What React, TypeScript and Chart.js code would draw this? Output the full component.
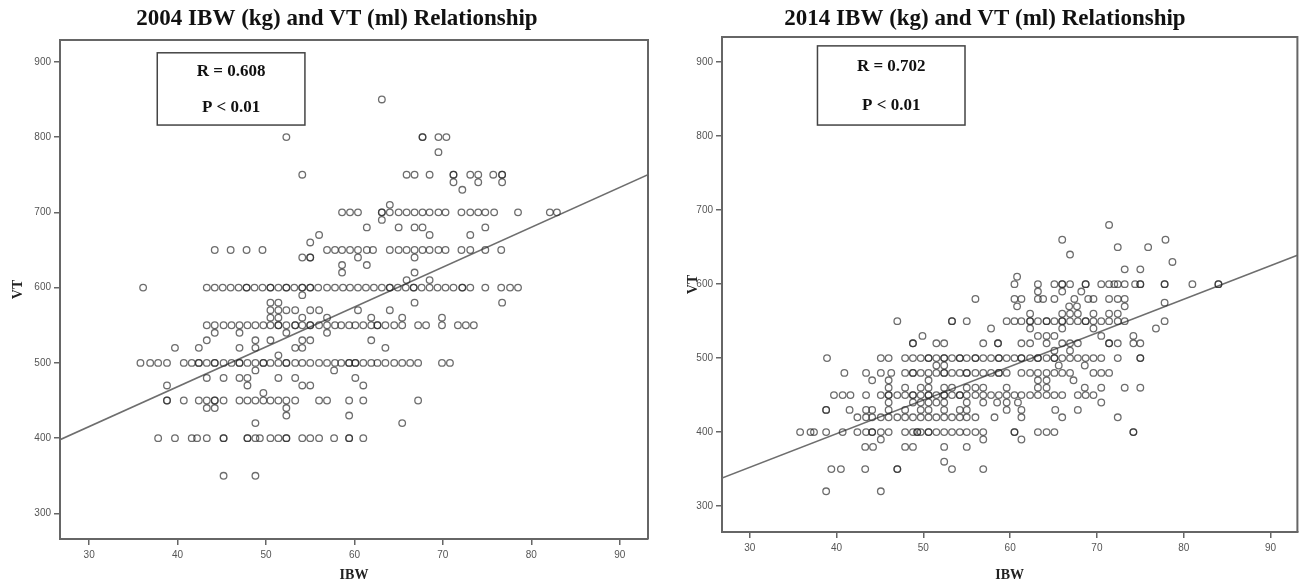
import React, { useEffect, useRef } from "react";
import { Chart, registerables } from "chart.js";

Chart.register(...registerables);

// ---------- tick labels ----------
const X_TICKS = [30, 40, 50, 60, 70, 80, 90];
const Y_TICKS = [300, 400, 500, 600, 700, 800, 900];

// ---------- 2004 data: [VT level, IBW values at that VT] ----------
const ROWS_2004: [number, number[]][] = [
  [850, [63.1]],
  [800, [52.3, 67.7, 67.7, 69.5, 70.4]],
  [780, [69.5]],
  [750, [54.1, 65.9, 66.8, 68.5, 71.2, 71.2, 73.1, 74.0, 75.7, 76.7, 76.7]],
  [740, [71.2, 74.0, 76.7]],
  [730, [72.2]],
  [710, [64.0]],
  [700, [58.6, 59.5, 60.4, 63.1, 63.1, 64.0, 65.0, 65.9, 66.8, 67.7, 68.5, 69.5, 70.3, 72.1, 73.1, 74.0, 74.8, 75.8, 78.5, 82.1, 82.9]],
  [690, [63.1]],
  [680, [61.4, 65.0, 66.8, 67.7, 74.8]],
  [670, [56.0, 68.5, 73.1]],
  [660, [55.0]],
  [650, [44.2, 46.0, 47.8, 49.6, 56.9, 57.8, 58.6, 59.5, 60.4, 61.4, 62.1, 64.0, 65.0, 65.9, 66.8, 67.7, 68.5, 69.5, 70.3, 72.1, 73.1, 74.8, 76.6]],
  [640, [54.1, 55.0, 55.0, 60.4, 66.8]],
  [630, [58.6, 61.4]],
  [620, [58.6, 66.8]],
  [610, [65.9, 68.5]],
  [600, [36.1, 43.3, 44.2, 45.1, 46.0, 46.9, 47.8, 47.8, 48.7, 49.6, 50.5, 50.5, 51.4, 52.3, 52.3, 53.2, 54.1, 54.1, 55.0, 55.0, 55.9, 56.9, 57.8, 58.7, 59.5, 60.4, 61.3, 62.2, 63.1, 64.0, 64.0, 64.9, 65.8, 66.7, 66.7, 67.6, 68.5, 69.4, 70.3, 71.2, 72.2, 72.2, 73.1, 74.8, 76.6, 77.6, 78.5]],
  [590, [54.1]],
  [580, [50.5, 51.4, 66.8, 76.7]],
  [570, [50.5, 51.4, 52.3, 53.3, 55.0, 56.0, 60.4, 64.0]],
  [560, [50.5, 51.4, 54.1, 56.9, 61.9, 65.4, 69.9]],
  [550, [43.3, 44.2, 45.2, 46.1, 47.0, 47.9, 48.8, 49.7, 50.5, 51.4, 51.4, 52.3, 53.3, 53.3, 54.1, 55.0, 55.0, 56.0, 56.9, 57.8, 58.5, 59.4, 60.1, 61.0, 61.9, 62.6, 62.6, 63.5, 64.5, 65.4, 67.2, 68.1, 69.9, 71.7, 72.6, 73.5]],
  [540, [44.2, 47.0, 52.3, 56.9]],
  [530, [43.3, 48.8, 50.5, 54.1, 55.0, 61.9]],
  [520, [39.7, 42.4, 47.0, 48.8, 53.3, 54.1, 63.5]],
  [510, [51.4]],
  [500, [35.8, 36.9, 37.8, 38.8, 40.7, 41.6, 42.4, 42.4, 43.3, 44.2, 44.2, 45.2, 46.1, 47.0, 47.0, 47.9, 48.8, 49.7, 49.7, 50.5, 51.4, 52.3, 52.3, 53.3, 54.1, 55.0, 56.0, 56.9, 57.8, 58.5, 59.4, 59.4, 60.1, 60.1, 61.0, 61.9, 62.6, 63.5, 64.5, 65.4, 66.3, 67.2, 69.9, 70.8]],
  [490, [48.8, 57.7]],
  [480, [43.3, 45.2, 47.0, 47.9, 51.4, 53.3, 60.1]],
  [470, [38.8, 47.9, 54.1, 55.0, 61.0]],
  [460, [49.7]],
  [450, [38.8, 38.8, 40.7, 42.4, 43.3, 44.2, 44.2, 45.2, 47.0, 47.9, 48.8, 49.7, 50.5, 51.4, 52.3, 53.3, 56.0, 56.9, 59.4, 61.0, 67.2]],
  [440, [43.3, 44.2, 52.3]],
  [430, [52.3, 59.4]],
  [420, [48.8, 65.4]],
  [400, [37.8, 39.7, 41.6, 42.2, 43.3, 45.2, 45.2, 47.9, 47.9, 48.8, 49.3, 50.5, 51.4, 52.3, 52.3, 54.1, 55.0, 56.0, 57.7, 59.4, 59.4, 61.0]],
  [350, [45.2, 48.8]],
];

// ---------- 2014 data: [VT level, IBW values at that VT] ----------
const ROWS_2014: [number, number[]][] = [
  [680, [71.4]],
  [660, [66.0, 77.9]],
  [650, [72.4, 75.9]],
  [640, [66.9]],
  [630, [78.7]],
  [620, [73.2, 75.0]],
  [610, [60.8]],
  [600, [60.5, 63.2, 65.1, 66.0, 66.0, 66.9, 68.7, 68.7, 70.5, 71.4, 72.0, 72.4, 73.2, 74.4, 75.0, 75.0, 77.8, 77.8, 81.0, 84.0, 84.0]],
  [590, [63.2, 66.0, 68.2]],
  [580, [56.0, 60.5, 61.3, 63.2, 63.8, 65.1, 67.4, 69.0, 69.6, 71.4, 72.4, 73.2]],
  [575, [77.8]],
  [570, [60.8, 66.8, 67.7, 73.2]],
  [560, [62.3, 66.0, 66.9, 67.8, 69.6, 71.4, 72.4]],
  [550, [47.0, 53.3, 53.3, 55.0, 59.6, 60.5, 61.3, 62.3, 62.3, 63.2, 64.2, 64.2, 65.1, 66.0, 66.0, 66.9, 67.8, 68.7, 68.7, 69.6, 70.5, 71.4, 72.4, 73.2, 77.8]],
  [540, [57.8, 62.3, 66.0, 69.6, 76.8]],
  [530, [49.9, 63.2, 64.2, 65.1, 70.5, 74.2]],
  [520, [48.8, 48.8, 51.5, 52.4, 56.9, 58.6, 58.6, 61.3, 62.3, 64.2, 66.0, 66.9, 67.8, 71.4, 71.4, 72.4, 74.2, 75.0]],
  [510, [65.1, 66.9]],
  [500, [38.9, 45.1, 46.0, 47.9, 48.8, 49.7, 50.6, 50.6, 51.5, 52.4, 52.4, 53.3, 54.2, 54.2, 55.0, 56.0, 56.0, 56.9, 57.8, 58.7, 58.7, 59.6, 60.5, 61.3, 61.3, 62.3, 63.2, 63.2, 64.2, 65.1, 65.1, 66.0, 66.9, 67.8, 68.7, 69.6, 70.5, 72.4, 75.0, 75.0]],
  [490, [51.5, 52.4, 65.6, 68.6]],
  [480, [40.9, 43.4, 45.1, 46.3, 47.9, 48.8, 48.8, 49.7, 50.6, 51.5, 52.4, 52.4, 53.3, 54.2, 55.0, 55.0, 56.0, 56.9, 57.8, 58.7, 58.7, 59.6, 61.3, 62.3, 63.2, 64.2, 65.1, 66.0, 66.9, 69.6, 70.5, 71.4]],
  [470, [44.1, 46.0, 50.6, 63.2, 64.2, 67.3]],
  [460, [46.0, 47.9, 49.7, 50.6, 52.4, 53.3, 55.0, 56.0, 56.9, 59.6, 63.2, 64.2, 68.6, 70.5, 73.2, 75.0]],
  [450, [39.7, 40.7, 41.6, 43.4, 45.1, 46.0, 46.0, 47.0, 47.9, 48.8, 48.8, 49.7, 50.6, 50.6, 51.5, 52.4, 52.4, 53.3, 54.2, 54.2, 55.0, 56.0, 56.9, 57.8, 58.7, 59.6, 60.5, 61.3, 62.3, 63.2, 64.2, 65.1, 66.0, 67.8, 68.7, 69.6]],
  [440, [46.0, 48.8, 49.7, 50.6, 51.5, 52.4, 55.0, 56.9, 58.5, 59.6, 60.9, 70.5]],
  [430, [38.8, 38.8, 41.5, 43.4, 44.1, 46.0, 47.9, 49.7, 50.6, 52.4, 54.2, 55.0, 59.6, 61.3, 65.2, 67.8]],
  [420, [42.4, 43.4, 44.1, 45.1, 46.0, 47.0, 47.9, 48.8, 49.7, 50.6, 51.5, 52.4, 53.3, 54.2, 55.0, 56.0, 58.2, 61.3, 66.0, 72.4]],
  [400, [35.8, 37.0, 37.4, 38.8, 40.7, 42.4, 43.4, 44.1, 44.1, 45.1, 46.0, 47.9, 48.8, 49.3, 49.3, 49.7, 50.6, 50.6, 51.5, 52.4, 53.3, 54.2, 55.0, 56.0, 56.9, 60.5, 60.5, 63.2, 64.2, 65.1, 74.2, 74.2]],
  [390, [45.1, 56.9, 61.3]],
  [380, [43.3, 44.2, 47.9, 48.8, 52.4, 55.0]],
  [360, [52.4]],
  [350, [39.4, 40.5, 43.3, 47.0, 47.0, 53.3, 56.9]],
  [320, [38.8, 45.1]],
];

// ---------- regression line end points (IBW, VT) ----------
const FIT_2004_IBW = [26.7, 93.2];
const FIT_2004_VT = [398, 750];
const FIT_2014_IBW = [26.8, 93.1];
const FIT_2014_VT = [338, 639];

// ---------- titles & stats ----------
const TITLE_2004 = "2004 IBW (kg) and VT (ml) Relationship";
const TITLE_2014 = "2014 IBW (kg) and VT (ml) Relationship";
const STATS_2004 = ["R = 0.608", "P < 0.01"];
const STATS_2014 = ["R = 0.702", "P < 0.01"];

const SERIF = "'Times New Roman', 'Liberation Serif', serif";
const NARROW = "'Liberation Sans Narrow', 'Arial Narrow', 'Liberation Sans', sans-serif";

type Panel = {
  left: number;
  width: number;
  padLeft: number;
  padRight: number;
  yAxisWidth: number;
  xAxisHeight: number;
  titleBottomPad: number;
  vtPad: number;
  xRange: [number, number];
  yRange: [number, number];
  rows: [number, number[]][];
  fitX: number[];
  fitY: number[];
  title: string;
  stats: string[];
  statBox: [number, number, number, number]; // x1,x2,yTop,yBottom in data units
};

const PANELS: Panel[] = [
  {
    left: 0, width: 664, padLeft: 26, padRight: 16, yAxisWidth: 34, xAxisHeight: 46,
    titleBottomPad: 7.4, vtPad: -16.4,
    xRange: [26.7, 93.2], yRange: [266, 929],
    rows: ROWS_2004, fitX: FIT_2004_IBW, fitY: FIT_2004_VT,
    title: TITLE_2004, stats: STATS_2004, statBox: [37.7, 54.4, 912, 816],
  },
  {
    left: 664, width: 638, padLeft: 6, padRight: 2, yAxisWidth: 52, xAxisHeight: 53,
    titleBottomPad: 4.4, vtPad: 14.6,
    xRange: [26.8, 93.1], yRange: [265, 934],
    rows: ROWS_2014, fitX: FIT_2014_IBW, fitY: FIT_2014_VT,
    title: TITLE_2014, stats: STATS_2014, statBox: [37.8, 54.8, 922, 815],
  },
];

const framePlugin = {
  id: "frame",
  afterDatasetsDraw(chart: any, _args: any, opts: any) {
    const { ctx, chartArea: a, scales } = chart;
    ctx.save();
    ctx.strokeStyle = "#666";
    ctx.lineWidth = 2;
    ctx.beginPath();
    ctx.moveTo(a.left, a.top);
    ctx.lineTo(a.right, a.top);
    ctx.lineTo(a.right, a.bottom);
    ctx.stroke();
    const b = opts.box as number[];
    if (b) {
      const x1 = scales.x.getPixelForValue(b[0]);
      const x2 = scales.x.getPixelForValue(b[1]);
      const y1 = scales.y.getPixelForValue(b[2]);
      const y2 = scales.y.getPixelForValue(b[3]);
      ctx.fillStyle = "#fff";
      ctx.fillRect(x1, y1, x2 - x1, y2 - y1);
      ctx.strokeStyle = "#444";
      ctx.lineWidth = 1.5;
      ctx.strokeRect(x1, y1, x2 - x1, y2 - y1);
      ctx.fillStyle = "#111";
      ctx.font = `bold 17px ${SERIF}`;
      ctx.textAlign = "center";
      ctx.textBaseline = "middle";
      const lines = opts.lines as string[];
      const h = y2 - y1;
      lines.forEach((t, i) => {
        ctx.fillText(t, (x1 + x2) / 2, y1 + h * (0.26 + 0.5 * i));
      });
    }
    ctx.restore();
  },
};

function ScatterPanel({ p }: { p: Panel }) {
  const ref = useRef<HTMLCanvasElement>(null);
  useEffect(() => {
    const canvas = ref.current!;
    const points = p.rows.flatMap(([vt, xs]) => xs.map((x) => ({ x, y: vt })));
    const fit = p.fitX.map((x, i) => ({ x, y: p.fitY[i] }));
    const tickFont = { family: NARROW, size: 10 };
    const chart = new Chart(canvas, {
      type: "scatter",
      data: {
        datasets: [
          {
            data: points,
            pointRadius: 3.3,
            pointBorderWidth: 1.3,
            borderColor: "rgba(40,40,40,0.68)",
            backgroundColor: "rgba(0,0,0,0)",
            pointHoverRadius: 3.3,
          },
          {
            data: fit,
            showLine: true,
            pointRadius: 0,
            borderColor: "#6e6e6e",
            borderWidth: 1.6,
          } as any,
        ],
      },
      options: {
        responsive: false,
        animation: false,
        devicePixelRatio: 1,
        layout: { padding: { left: p.padLeft, right: p.padRight, top: 0, bottom: 0 } },
        plugins: {
          legend: { display: false },
          tooltip: { enabled: false },
          title: {
            display: true,
            text: p.title,
            color: "#111",
            font: { family: SERIF, size: 23, weight: "bold", lineHeight: 1.2 },
            padding: { top: 5, bottom: p.titleBottomPad },
          },
          frame: { box: p.statBox, lines: p.stats },
        } as any,
        scales: {
          x: {
            type: "linear",
            min: p.xRange[0],
            max: p.xRange[1],
            afterBuildTicks: (s: any) => {
              s.ticks = X_TICKS.map((v) => ({ value: v }));
            },
            afterFit: (s: any) => {
              s.height = p.xAxisHeight;
            },
            grid: { drawOnChartArea: false, drawTicks: true, tickLength: 6, color: "#666", lineWidth: 1.5 },
            border: { display: true, color: "#666", width: 2 },
            ticks: { font: tickFont, color: "#555", padding: 4, maxRotation: 0 },
            title: {
              display: true,
              text: "IBW",
              color: "#222",
              font: { family: SERIF, size: 14, weight: "bold", lineHeight: 1.2 },
              padding: { top: 0, bottom: 1.6 },
            },
          },
          y: {
            type: "linear",
            min: p.yRange[0],
            max: p.yRange[1],
            afterBuildTicks: (s: any) => {
              s.ticks = Y_TICKS.map((v) => ({ value: v }));
            },
            afterFit: (s: any) => {
              s.width = p.yAxisWidth;
            },
            grid: { drawOnChartArea: false, drawTicks: true, tickLength: 6, color: "#666", lineWidth: 1.5 },
            border: { display: true, color: "#666", width: 2 },
            ticks: { font: tickFont, color: "#555", padding: 3 },
            title: {
              display: true,
              text: "VT",
              color: "#222",
              font: { family: SERIF, size: 14, weight: "bold", lineHeight: 1.2 },
              padding: { top: p.vtPad, bottom: 0 },
            },
          },
        },
      },
      plugins: [framePlugin],
    });
    return () => chart.destroy();
  }, [p]);
  return (
    <canvas
      ref={ref}
      width={p.width}
      height={585}
      style={{ position: "absolute", left: p.left, top: 0, width: p.width, height: 585 }}
    />
  );
}

export default function App() {
  return (
    <div style={{ position: "fixed", left: 0, top: 0, width: 1302, height: 585, background: "#fff" }}>
      {PANELS.map((p, i) => (
        <ScatterPanel key={i} p={p} />
      ))}
    </div>
  );
}
